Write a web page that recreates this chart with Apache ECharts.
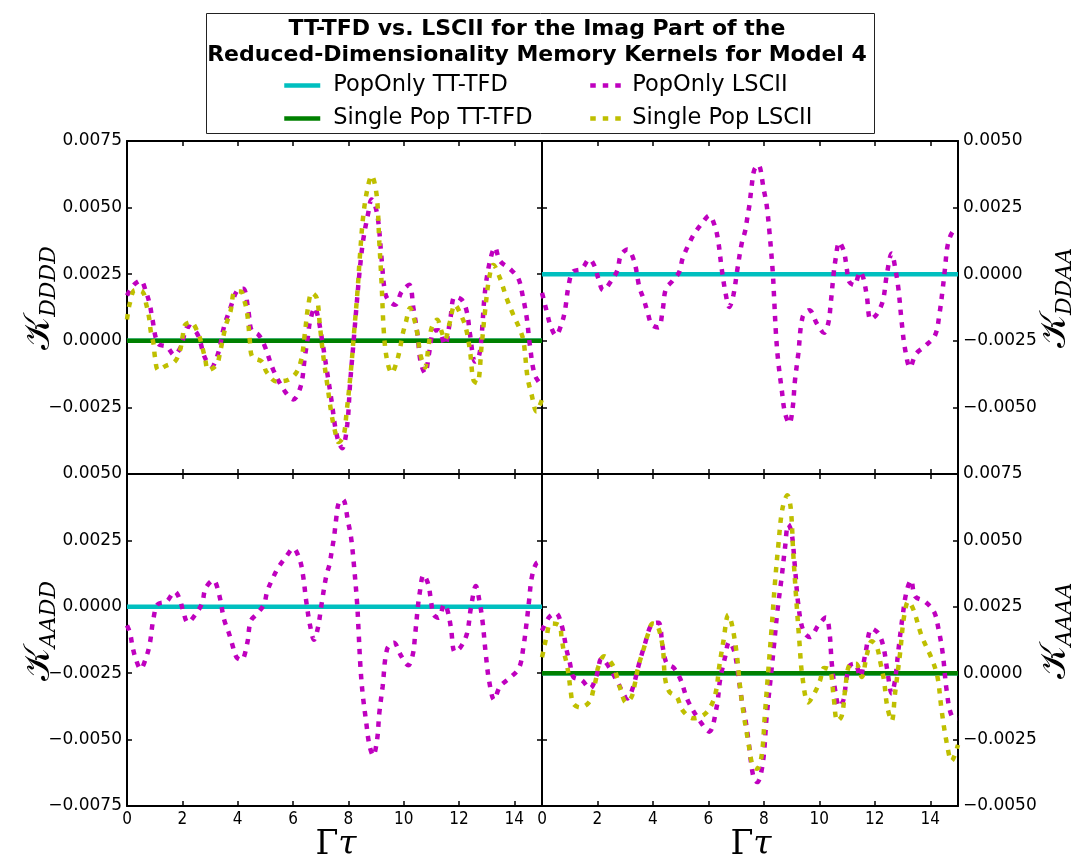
<!DOCTYPE html>
<html>
<head>
<meta charset="utf-8">
<script src="https://cdn.jsdelivr.net/npm/echarts@6/dist/echarts.min.js"></script>
<style>
  html, body { margin: 0; padding: 0; background: #ffffff; }
  #chart { width: 1074px; height: 860px; }
</style>
</head>
<body>
<div id="chart"></div>
<script>
// Time axis (Γτ) and the TT-TFD kernels, which are flat at zero over the whole window
const ttTfdTimes = [0, 15];
const ttTfdValues = [0, 0];

// LSCII kernels, [Γτ, K] pairs
const popOnlyDDDD = [
  [0, 0.0017], [0.25, 0.0021], [0.49, 0.00226], [0.7, 0.0018], [0.83, 0.00133], [0.91, 0.00086],
  [1.12, -0.0001], [1.45, -0.00023], [1.7, -0.00053], [1.93, -0.00026], [2.22, 0.00054], [2.54, 0.00026],
  [2.82, -0.00064], [3.06, -0.00096], [3.3, -0.00045], [3.5, 0.0005], [3.74, 0.00124], [3.98, 0.00188],
  [4.2, 0.00195], [4.39, 0.0011], [4.5, 0.0004], [4.75, 0.00023], [4.96, -0.00015], [5.29, -0.0011],
  [5.71, -0.0019], [6.01, -0.0022], [6.28, -0.0017], [6.43, -0.0006], [6.55, 0.00023], [6.61, 0.0007],
  [6.79, 0.00124], [6.91, 0.00086], [7.04, 0.0001], [7.23, -0.00115], [7.4, -0.0023], [7.52, -0.0032],
  [7.65, -0.0038], [7.78, -0.00403], [7.96, -0.00315], [8.06, -0.00165], [8.18, -0.00015], [8.3, 0.00135],
  [8.42, 0.00274], [8.54, 0.0038], [8.72, 0.0048], [8.84, 0.0053], [8.96, 0.0051], [9.08, 0.0045],
  [9.2, 0.0031], [9.32, 0.00185], [9.44, 0.00154], [9.69, 0.00135], [9.93, 0.00185], [10.2, 0.0021],
  [10.35, 0.00124], [10.5, 0.00023], [10.61, -0.00078], [10.77, -0.00121], [10.93, -0.0004], [11.07, 0.00035],
  [11.25, 0.0004], [11.49, -0.00015], [11.67, 0.0007], [11.85, 0.00166], [12.1, 0.00154], [12.28, 0.0011],
  [12.4, 0.00023], [12.58, -0.00078], [12.73, -0.00053], [12.82, 0.00023], [12.94, 0.00185], [13.12, 0.003],
  [13.3, 0.0035], [13.48, 0.003], [13.84, 0.0027], [14.14, 0.00235], [14.3, 0.0017], [14.45, 0.00085],
  [14.56, -0.00015], [14.74, -0.00128], [15, -0.0017]
];

const singlePopDDDD = [
  [0, 0.0008], [0.1, 0.0014], [0.29, 0.0019], [0.57, 0.00183], [0.7, 0.00135], [0.8, 0.00086],
  [0.86, 0.00035], [0.96, -0.00012], [1.01, -0.0006], [1.13, -0.0011], [1.41, -0.00094], [1.73, -0.00078],
  [1.92, -0.00034], [2.01, 0.00016], [2.1, 0.0006], [2.3, 0.0007], [2.57, 0.00029], [2.7, -0.00015],
  [2.82, -0.00065], [2.94, -0.0011], [3.24, -0.0009], [3.37, -0.0004], [3.47, 0.0001], [3.58, 0.0006],
  [3.74, 0.0011], [3.9, 0.00185], [4.11, 0.00185], [4.27, 0.0014], [4.36, 0.0009], [4.45, -0.0001],
  [4.53, -0.0006], [4.87, -0.00078], [5.05, -0.00118], [5.41, -0.00153], [5.83, -0.00146], [6.13, -0.00118],
  [6.31, -0.00065], [6.43, 0.00029], [6.55, 0.0013], [6.68, 0.0018], [6.86, 0.0016], [6.97, 0.0006],
  [7.09, -0.00053], [7.24, -0.00165], [7.4, -0.0028], [7.52, -0.0034], [7.64, -0.0038], [7.82, -0.0036],
  [7.94, -0.00265], [8.09, -0.00115], [8.21, 0.00035], [8.33, 0.00185], [8.42, 0.0032], [8.54, 0.0047],
  [8.69, 0.0057], [8.84, 0.0062], [9.02, 0.0055], [9.12, 0.0037], [9.2, 0.0022], [9.29, 0.00023],
  [9.41, -0.00078], [9.57, -0.00121], [9.75, -0.00078], [9.87, -0.00028], [9.96, 0.00023], [10.08, 0.0007],
  [10.23, 0.00123], [10.41, 0.0007], [10.5, 0.00023], [10.61, -0.00053], [10.77, -0.001], [10.89, -0.00028],
  [11.01, 0.00048], [11.21, 0.00079], [11.37, 0.00035], [11.49, 0.00004], [11.67, 0.0007], [11.85, 0.00135],
  [12.1, 0.0009], [12.25, 0.00048], [12.4, -0.0004], [12.52, -0.00146], [12.66, -0.00159], [12.82, -0.00015],
  [12.94, 0.0011], [13.09, 0.00235], [13.24, 0.00285], [13.48, 0.00235], [13.72, 0.0016], [13.96, 0.00098],
  [14.18, 0.00048], [14.33, 0.0], [14.48, -0.0014], [14.62, -0.002], [14.8, -0.00265], [15, -0.0022]
];

const popOnlyDDAA = [
  [0, -0.0007], [0.07, -0.00098], [0.17, -0.0014], [0.31, -0.00194], [0.5, -0.0023], [0.71, -0.00185],
  [0.83, -0.00135], [0.95, -0.00048], [1.11, 0.00009], [1.43, 0.0002], [1.71, 0.00056], [1.91, 0.00027],
  [2.03, -0.00016], [2.21, -0.0006], [2.51, -0.00023], [2.72, 0.00015], [2.84, 0.0007], [3.08, 0.00093],
  [3.32, 0.0005], [3.51, -0.00048], [3.68, -0.00098], [3.8, -0.0014], [3.96, -0.0019], [4.2, -0.002],
  [4.35, -0.00135], [4.47, -0.00054], [4.71, -0.00025], [4.95, 0.00009], [5.07, 0.00059], [5.28, 0.0011],
  [5.48, 0.0015], [5.76, 0.0019], [6.03, 0.0022], [6.24, 0.00178], [6.36, 0.0012], [6.48, 0.0002],
  [6.62, -0.00072], [6.75, -0.00123], [6.9, -0.00079], [7.04, 0.00015], [7.2, 0.00115], [7.32, 0.0016],
  [7.4, 0.0021], [7.48, 0.0026], [7.56, 0.0033], [7.65, 0.0039], [7.8, 0.0041], [8.0, 0.00315],
  [8.1, 0.0026], [8.2, 0.0016], [8.32, 0.00009], [8.37, -0.0009], [8.44, -0.0023], [8.52, -0.0033],
  [8.64, -0.0043], [8.76, -0.0052], [8.92, -0.0056], [9.04, -0.005], [9.12, -0.004], [9.24, -0.003],
  [9.4, -0.0016], [9.64, -0.00135], [9.91, -0.00185], [10.17, -0.0022], [10.33, -0.0018], [10.41, -0.0011],
  [10.51, -0.00004], [10.57, 0.00046], [10.72, 0.0012], [10.89, 0.00084], [10.99, 0.0002], [11.08, -0.00029],
  [11.26, -0.00041], [11.47, 0.00009], [11.59, -0.00016], [11.71, -0.0008], [11.85, -0.0017], [12.07, -0.0015],
  [12.29, -0.001], [12.43, -0.00004], [12.61, 0.00078], [12.73, 0.00027], [12.85, -0.00054], [12.97, -0.0018],
  [13.09, -0.0028], [13.27, -0.0035], [13.48, -0.003], [13.81, -0.0027], [14.17, -0.0023], [14.33, -0.0015],
  [14.45, -0.00054], [14.53, 0.0002], [14.63, 0.0011], [14.81, 0.0016], [15, 0.0017]
];

const popOnlyAADD = [
  [0, -0.0007], [0.11, -0.00099], [0.2, -0.0015], [0.31, -0.00194], [0.49, -0.00234], [0.71, -0.00185],
  [0.83, -0.00135], [0.95, -0.00048], [1.11, 0.00009], [1.43, 0.0002], [1.73, 0.00057], [1.91, 0.00027],
  [2.03, -0.00016], [2.2, -0.00059], [2.51, -0.00023], [2.72, 0.00015], [2.84, 0.0007], [3.12, 0.001],
  [3.32, 0.0005], [3.51, -0.00048], [3.68, -0.00098], [3.8, -0.0014], [3.96, -0.0019], [4.14, -0.002],
  [4.35, -0.00135], [4.47, -0.00054], [4.71, -0.00025], [4.95, 0.00009], [5.07, 0.00059], [5.28, 0.0011],
  [5.48, 0.0015], [5.76, 0.0019], [6.01, 0.0022], [6.24, 0.00178], [6.36, 0.0012], [6.48, 0.0002],
  [6.62, -0.00072], [6.76, -0.00124], [6.9, -0.00079], [7.04, 0.00015], [7.2, 0.00115], [7.32, 0.0016],
  [7.4, 0.0021], [7.48, 0.0026], [7.56, 0.0033], [7.65, 0.0039], [7.8, 0.00404], [8.0, 0.00315],
  [8.1, 0.0026], [8.2, 0.0016], [8.32, 0.00009], [8.37, -0.0009], [8.44, -0.0023], [8.52, -0.0033],
  [8.64, -0.0043], [8.76, -0.0052], [8.9, -0.0056], [9.04, -0.005], [9.12, -0.004], [9.24, -0.003],
  [9.4, -0.0016], [9.64, -0.00135], [9.91, -0.00185], [10.17, -0.0022], [10.33, -0.0018], [10.41, -0.0011],
  [10.51, -0.00004], [10.57, 0.00046], [10.72, 0.0012], [10.89, 0.00084], [10.99, 0.0002], [11.08, -0.00029],
  [11.26, -0.00041], [11.47, 0.00009], [11.59, -0.00016], [11.71, -0.0008], [11.85, -0.0017], [12.07, -0.0015],
  [12.29, -0.001], [12.43, -0.00004], [12.61, 0.00078], [12.73, 0.00027], [12.85, -0.00054], [12.97, -0.0018],
  [13.09, -0.0028], [13.27, -0.0035], [13.48, -0.003], [13.81, -0.0027], [14.17, -0.0023], [14.33, -0.0015],
  [14.45, -0.00054], [14.53, 0.0002], [14.63, 0.0011], [14.8, 0.00164], [15, 0.0017]
];

const popOnlyAAAA = [
  [0, 0.0016], [0.25, 0.0021], [0.5, 0.00226], [0.71, 0.0018], [0.89, 0.00086], [1.01, 0.00036],
  [1.13, -0.00014], [1.43, -0.00026], [1.73, -0.00057], [1.97, -0.00008], [2.15, 0.00055], [2.45, 0.00018],
  [2.75, -0.00039], [3.08, -0.00095], [3.29, -0.0005], [3.47, 0.00024], [3.71, 0.0011], [3.96, 0.00184],
  [4.2, 0.0019], [4.35, 0.001], [4.5, 0.00036], [4.74, 0.00021], [4.98, -0.0002], [5.28, -0.00108],
  [5.76, -0.0019], [6.03, -0.0022], [6.3, -0.00126], [6.42, -0.00026], [6.6, 0.0006], [6.75, 0.00118],
  [6.92, 0.00086], [7.02, 0.00036], [7.2, -0.001], [7.32, -0.00164], [7.44, -0.0025], [7.62, -0.0039],
  [7.76, -0.0041], [7.96, -0.0034], [8.1, -0.00164], [8.25, -0.00014], [8.37, 0.0011], [8.49, 0.00236],
  [8.64, 0.0036], [8.76, 0.0047], [8.88, 0.0056], [9.0, 0.0053], [9.12, 0.004], [9.24, 0.0026],
  [9.42, 0.0016], [9.66, 0.00136], [9.96, 0.0018], [10.24, 0.0021], [10.36, 0.0016], [10.45, 0.00036],
  [10.57, -0.00064], [10.72, -0.00126], [10.87, -0.001], [10.99, -0.00014], [11.11, 0.0003], [11.29, 0.00036],
  [11.47, -0.00014], [11.65, 0.00068], [11.89, 0.00168], [12.13, 0.0015], [12.31, 0.001], [12.45, 0.00011],
  [12.61, -0.00076], [12.73, -0.00026], [12.85, 0.00086], [13.01, 0.0022], [13.15, 0.0031], [13.31, 0.0035],
  [13.45, 0.0029], [13.81, 0.0027], [14.14, 0.0023], [14.29, 0.0017], [14.45, 0.00074], [14.59, -0.00064],
  [14.77, -0.0016], [15, -0.0017]
];

const singlePopAAAA = [
  [0, 0.0006], [0.07, 0.00093], [0.17, 0.0014], [0.31, 0.00187], [0.62, 0.0018], [0.71, 0.0013],
  [0.79, 0.0008], [0.89, 0.00036], [0.97, -0.00014], [1.03, -0.00064], [1.13, -0.00114], [1.37, -0.00129],
  [1.71, -0.00108], [1.85, -0.00064], [1.95, -0.0002], [2.03, 0.00024], [2.24, 0.00064], [2.55, 0.0003],
  [2.72, -0.0002], [2.84, -0.00064], [3.03, -0.0011], [3.23, -0.00089], [3.35, -0.00039], [3.47, 0.00024],
  [3.65, 0.00086], [3.83, 0.0015], [3.99, 0.00187], [4.16, 0.0018], [4.35, 0.001], [4.44, -0.0002],
  [4.59, -0.0007], [4.86, -0.00089], [5.07, -0.0014], [5.46, -0.0017], [5.82, -0.00158], [6.08, -0.00126],
  [6.27, -0.0007], [6.39, 0.00024], [6.54, 0.0012], [6.72, 0.0022], [6.84, 0.00187], [7.02, 0.00074],
  [7.14, -0.0005], [7.28, -0.0016], [7.44, -0.0026], [7.6, -0.0035], [7.75, -0.0036], [7.92, -0.0031],
  [8.04, -0.0015], [8.16, 0.0001], [8.28, 0.0017], [8.4, 0.0034], [8.52, 0.0048], [8.67, 0.0062],
  [8.85, 0.0067], [8.97, 0.0062], [9.06, 0.0045], [9.16, 0.0029], [9.28, 0.0012], [9.39, -0.00014],
  [9.6, -0.0011], [9.85, -0.0007], [10.03, -0.00026], [10.17, 0.0002], [10.39, 0.0001], [10.51, -0.00083],
  [10.65, -0.0018], [10.81, -0.0016], [10.93, -0.00064], [11.08, 0.0003], [11.32, 0.00036], [11.53, -0.00014],
  [11.71, 0.00068], [11.89, 0.0012], [12.07, 0.001], [12.21, 0.00036], [12.33, -0.00026], [12.45, -0.00126],
  [12.61, -0.0018], [12.73, -0.00076], [12.91, 0.00074], [13.05, 0.0021], [13.21, 0.0027], [13.39, 0.0024],
  [13.69, 0.0014], [14.05, 0.00055], [14.26, -0.00014], [14.41, -0.0014], [14.59, -0.0026], [14.77, -0.0033],
  [15, -0.0027]
];

// Y ranges of the four panels: [min, max]
const rangeDDDD = [-0.005, 0.0075];
const rangeDDAA = [-0.0075, 0.005];
const rangeAADD = [-0.0075, 0.005];
const rangeAAAA = [-0.005, 0.0075];
const yStep = 0.0025;
const xStep = 2;

const COLORS = { cyan: '#00BFBF', green: '#008000', magenta: '#BF00BF', yellow: '#BFBF00' };
const NAMES = {
  popTT: 'PopOnly TT-TFD', singleTT: 'Single Pop TT-TFD',
  popLS: 'PopOnly LSCII', singleLS: 'Single Pop LSCII'
};
const SANS = "'DejaVu Sans', sans-serif";
const SERIF = "'DejaVu Serif', serif";
const DOTS = [5.5, 7];

const chart = echarts.init(document.getElementById('chart'), null, { renderer: 'canvas' });

// Panel frames: [left, top, width, height]
const panels = [
  { box: [127, 141, 415, 333], range: rangeDDDD, ySide: 'left', xLabels: false, hideMin: true },
  { box: [542, 141, 416, 333], range: rangeDDAA, ySide: 'right', xLabels: false, hideMin: true },
  { box: [127, 474, 415, 332], range: rangeAADD, ySide: 'left', xLabels: true, hideMin: false },
  { box: [542, 474, 416, 332], range: rangeAAAA, ySide: 'right', xLabels: true, hideMin: false }
];

function fmtY(v) {
  if (Math.abs(v) < 1e-10) return '0.0000';
  return (v < 0 ? '\u2212' : '') + Math.abs(v).toFixed(4);
}

const frameLine = { show: true, onZero: false, lineStyle: { color: '#000', width: 2 } };
const inTick = { show: true, inside: true, length: 5, lineStyle: { color: '#000', width: 1.5 } };

const grids = [], xAxes = [], yAxes = [];
panels.forEach((p, g) => {
  grids.push({ left: p.box[0], top: p.box[1], width: p.box[2], height: p.box[3], outerBoundsMode: 'none', containLabel: false });
  ['bottom', 'top'].forEach(pos => {
    xAxes.push({
      type: 'value', gridIndex: g, position: pos, min: ttTfdTimes[0], max: ttTfdTimes[1], interval: xStep,
      axisLine: frameLine, axisTick: inTick, splitLine: { show: false },
      axisLabel: {
        show: pos === 'bottom' && p.xLabels, showMaxLabel: false, margin: 5,
        color: '#000', fontSize: 17,
        fontFamily: "'DejaVu Sans Condensed', 'Liberation Sans Narrow', 'DejaVu Sans', sans-serif"
      }
    });
  });
  ['left', 'right'].forEach(pos => {
    yAxes.push({
      type: 'value', gridIndex: g, position: pos, min: p.range[0], max: p.range[1], interval: yStep,
      axisLine: frameLine, axisTick: inTick, splitLine: { show: false },
      axisLabel: {
        show: pos === p.ySide, showMinLabel: !p.hideMin, showMaxLabel: true,
        margin: 5, formatter: fmtY,
        color: '#000', fontSize: 17, fontFamily: SANS
      }
    });
  });
});

function zeroLine(g, name, color) {
  return {
    type: 'line', name, xAxisIndex: 2 * g, yAxisIndex: panels[g].ySide === 'left' ? 2 * g : 2 * g + 1,
    data: ttTfdTimes.map((t, i) => [t, ttTfdValues[i]]),
    symbol: 'none', showSymbol: false, silent: true,
    lineStyle: { color, width: 4.5, type: 'solid' }, itemStyle: { color }
  };
}
function kernel(g, name, color, data) {
  return {
    type: 'line', name, xAxisIndex: 2 * g, yAxisIndex: panels[g].ySide === 'left' ? 2 * g : 2 * g + 1,
    data, symbol: 'none', showSymbol: false, smooth: 0.35, silent: true, clip: true,
    lineStyle: { color, width: 4.5, type: DOTS, cap: 'butt' }, itemStyle: { color }
  };
}

const series = [
  // K_DDDD
  zeroLine(0, NAMES.popTT, COLORS.cyan),
  zeroLine(0, NAMES.singleTT, COLORS.green),
  kernel(0, NAMES.popLS, COLORS.magenta, popOnlyDDDD),
  kernel(0, NAMES.singleLS, COLORS.yellow, singlePopDDDD),
  // K_DDAA
  zeroLine(1, NAMES.popTT, COLORS.cyan),
  kernel(1, NAMES.popLS, COLORS.magenta, popOnlyDDAA),
  // K_AADD
  zeroLine(2, NAMES.popTT, COLORS.cyan),
  kernel(2, NAMES.popLS, COLORS.magenta, popOnlyAADD),
  // K_AAAA
  zeroLine(3, NAMES.popTT, COLORS.cyan),
  zeroLine(3, NAMES.singleTT, COLORS.green),
  kernel(3, NAMES.popLS, COLORS.magenta, popOnlyAAAA),
  kernel(3, NAMES.singleLS, COLORS.yellow, singlePopAAAA)
];

// Legend keys show the bare line sample, no marker
const legendCommon = {
  orient: 'vertical', top: 69, itemWidth: 36, itemHeight: 14, itemGap: 10,
  selectedMode: false, lineStyle: { width: 4.5 }, itemStyle: { opacity: 0 }
};

function kernelName(sub) {
  return {
    text: '{k|\uD835\uDCA6}{s|' + sub + '}',
    rich: {
      k: { fontFamily: SERIF, fontSize: 36, lineHeight: 40, fill: '#000', verticalAlign: 'middle' },
      s: { fontFamily: SERIF, fontStyle: 'italic', fontSize: 22, lineHeight: 22, fill: '#000', padding: [16, 0, 0, 0], verticalAlign: 'bottom' }
    },
    align: 'center', verticalAlign: 'middle'
  };
}
function timeName() {
  return {
    text: '{g|\u0393}{t|\u03C4}',
    rich: {
      g: { fontFamily: SERIF, fontSize: 33, fill: '#000' },
      t: { fontFamily: SERIF, fontStyle: 'italic', fontSize: 33, fill: '#000' }
    },
    align: 'center', verticalAlign: 'middle'
  };
}

chart.setOption({
  animation: false,
  backgroundColor: '#ffffff',
  title: {
    text: 'TT-TFD vs. LSCII for the Imag Part of the\nReduced-Dimensionality Memory Kernels for Model 4',
    left: 'center', top: 11,
    textStyle: { fontFamily: SANS, fontWeight: 'bold', fontSize: 22, lineHeight: 26, color: '#000' }
  },
  legend: [
    Object.assign({}, legendCommon, {
      left: 277, data: [NAMES.popTT, NAMES.singleTT],
      textStyle: { fontFamily: SANS, fontSize: 22.5, color: '#000', padding: [0, 0, 0, 8] }
    }),
    Object.assign({}, legendCommon, {
      left: 583, data: [NAMES.popLS, NAMES.singleLS],
      textStyle: { fontFamily: SANS, fontSize: 22.5, color: '#000', padding: [0, 0, 0, 1] }
    })
  ],
  grid: grids,
  xAxis: xAxes,
  yAxis: yAxes,
  series,
  graphic: [
    { type: 'rect', shape: { x: 206.5, y: 13.5, width: 668, height: 120 }, style: { fill: 'none', stroke: '#222', lineWidth: 1 }, silent: true },
    { type: 'text', x: 40, y: 298, rotation: Math.PI / 2, style: kernelName('DDDD'), silent: true },
    { type: 'text', x: 40, y: 631, rotation: Math.PI / 2, style: kernelName('AADD'), silent: true },
    { type: 'text', x: 1056, y: 298, rotation: Math.PI / 2, style: kernelName('DDAA'), silent: true },
    { type: 'text', x: 1056, y: 631, rotation: Math.PI / 2, style: kernelName('AAAA'), silent: true },
    { type: 'text', x: 336, y: 845, style: timeName(), silent: true },
    { type: 'text', x: 751, y: 845, style: timeName(), silent: true }
  ]
});
</script>
</body>
</html>
